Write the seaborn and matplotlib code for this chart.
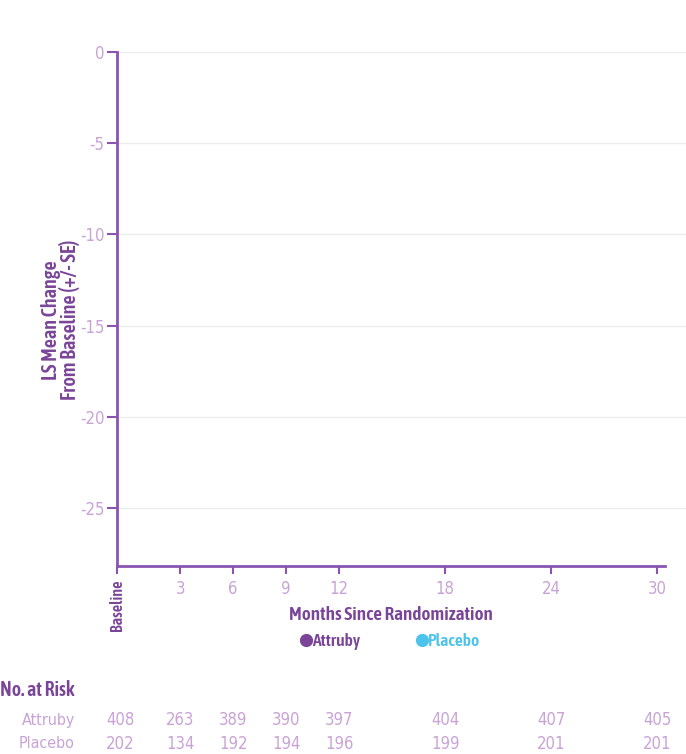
import matplotlib
matplotlib.use("Agg")
import matplotlib.pyplot as plt
import matplotlib.transforms as mtransforms
from matplotlib import font_manager
from matplotlib.lines import Line2D
import seaborn as sns

# ---- data ----
months = [0, 3, 6, 9, 12, 18, 24, 30]
month_labels = ["Baseline", "3", "6", "9", "12", "18", "24", "30"]
y_ticks = [0, -5, -10, -15, -20, -25]
groups = ["Attruby", "Placebo"]
risk_attruby = [408, 263, 389, 390, 397, 404, 407, 405]
risk_placebo = [202, 134, 192, 194, 196, 199, 201, 201]

# ---- style ----
sns.set_style("white")

# look for a condensed / narrow face among installed fonts
cands = []
for f in font_manager.fontManager.ttflist:
    st = str(f.stretch).lower()
    nm = f.name.lower()
    fn = f.fname.lower()
    cond = ("condensed" in st or "narrow" in nm or "condensed" in nm
            or "condensed" in fn or "narrow" in fn
            or (isinstance(f.stretch, int) and f.stretch < 500))
    if cond and f.style == "normal":
        cands.append(f)

def pick(weight):
    best = None
    for f in cands:
        w = f.weight if isinstance(f.weight, int) else 400
        d = abs(w - weight)
        if best is None or d < best[0]:
            best = (d, f)
    return best[1].fname if best else None

reg_file = pick(400)
bold_file = pick(600)
plt.rcParams["font.family"] = ["Roboto", "DejaVu Sans"]

def fp(bold, size):
    f = bold_file if bold else reg_file
    if f:
        p = font_manager.FontProperties(fname=f)
        p.set_size(size)
        return {"fontproperties": p}
    return {"fontsize": size * 0.82, "fontweight": "bold" if bold else "normal"}

PURPLE = "#8a55b0"
DARK_PURPLE = "#7a4598"
LIGHT_PURPLE = "#c9a3d6"
CYAN = "#4cc3ea"
GRID = "#ededed"

BASELINE_X = -0.57  # baseline tick sits left of month 0 scale

fig = plt.figure(figsize=(6.86, 7.54), dpi=100)
ax = fig.add_axes([117 / 686, 1 - 566 / 754, (686 - 117) / 686, (566 - 52) / 754])

ax.set_xlim(BASELINE_X, BASELINE_X + (686 - 117) / 17.67)
ax.set_ylim(-28.18, 0.0)

xpos = [BASELINE_X if m == 0 else m for m in months]
ax.set_xticks(xpos)
ax.set_yticks(y_ticks)
ax.set_xticklabels(month_labels, **fp(False, 12), color=LIGHT_PURPLE)
ax.set_yticklabels([str(v) for v in y_ticks], **fp(False, 12), color=LIGHT_PURPLE)

ax.yaxis.grid(True, color=GRID, lw=1)
ax.xaxis.grid(False)
ax.set_axisbelow(True)

for s in ["top", "right"]:
    ax.spines[s].set_visible(False)
for s in ["left", "bottom"]:
    ax.spines[s].set_color(PURPLE)
    ax.spines[s].set_linewidth(2)
ax.spines["bottom"].set_bounds(BASELINE_X, 30.45)
ax.spines["left"].set_bounds(-28.18, 0.0)

ax.tick_params(axis="y", direction="out", length=7, width=1.5, color=PURPLE, pad=2, left=True)
ax.tick_params(axis="x", direction="out", length=6, width=1.5, color=PURPLE, pad=4, bottom=True)
for lbl in ax.get_xticklabels():
    if lbl.get_text() == "Baseline":
        lbl.set_rotation(90)
        lbl.set_color(DARK_PURPLE)
        lbl.set_va("top")
        d = fp(True, 11.6)
        if "fontproperties" in d:
            lbl.set_fontproperties(d["fontproperties"])
        else:
            lbl.set_fontweight("bold")

ax.set_ylabel("LS Mean Change\nFrom Baseline (+/- SE)", color=DARK_PURPLE,
              **fp(True, 14.6), linespacing=0.9)
ax.set_xlabel("Months Since Randomization", color=DARK_PURPLE, **fp(True, 13.8))
ax.xaxis.set_label_coords((391 - 117) / (686 - 117), -(606 - 566) / (566 - 52))
ax.yaxis.set_label_coords(-(117 - 80) / (686 - 117), (566 - 320) / (566 - 52))

# legend
handles = [Line2D([], [], marker="o", ls="", color=DARK_PURPLE, markersize=8.5),
           Line2D([], [], marker="o", ls="", color=CYAN, markersize=8.5)]
leg_prop = fp(True, 12.6)
leg = fig.legend(handles, groups, loc="center", bbox_to_anchor=(391 / 686, 1 - 642 / 754),
                 ncol=2, frameon=False, handlelength=0.5, handletextpad=0.1,
                 columnspacing=3.3,
                 prop=leg_prop.get("fontproperties", {"size": leg_prop.get("fontsize"), "weight": "bold"}))
for t, c in zip(leg.get_texts(), [DARK_PURPLE, CYAN]):
    t.set_color(c)

# number at risk table
fig.text(0.0, 1 - 690 / 754, "No. at Risk", color=DARK_PURPLE, **fp(True, 14.2),
         va="center", ha="left")
trans = mtransforms.blended_transform_factory(ax.transData, fig.transFigure)
rows = [("Attruby", risk_attruby, 1 - 720 / 754), ("Placebo", risk_placebo, 1 - 744 / 754)]
for name, vals, yy in rows:
    fig.text(75 / 686, yy, name, color=LIGHT_PURPLE, **fp(False, 11.5), ha="right", va="center")
    for x, v in zip(xpos, vals):
        xx = x + 0.2 if x == BASELINE_X else x
        ax.text(xx, yy, str(v), transform=trans, color=LIGHT_PURPLE, **fp(False, 12),
                ha="center", va="center", clip_on=False)

fig.savefig("out.png", dpi=100)
